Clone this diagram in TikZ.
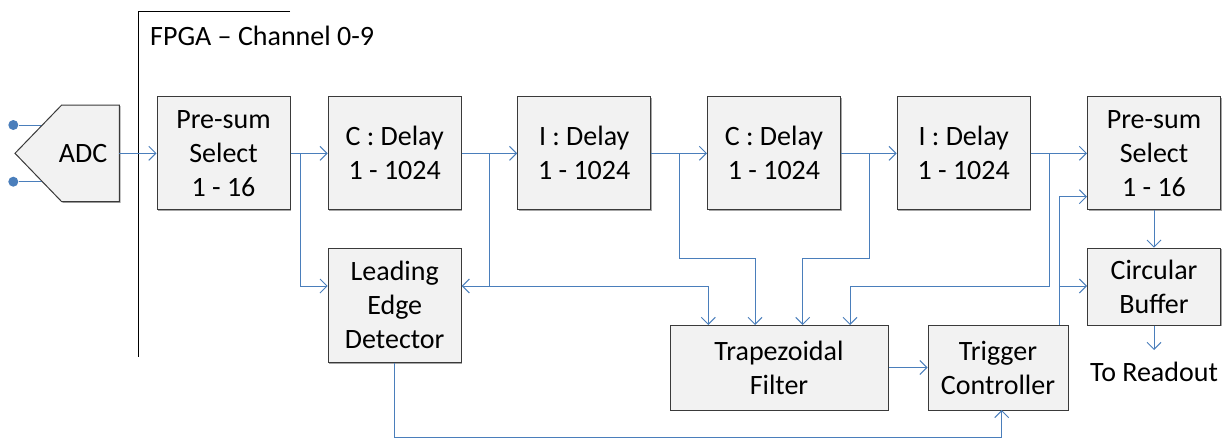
\documentclass[tikz,border=0pt]{standalone}
\usepackage{fontspec}
\setmainfont{Carlito}
\usetikzlibrary{arrows.meta,shadows}
\definecolor{wireblue}{HTML}{4A7EBB}
\definecolor{boxfill}{HTML}{F2F2F2}
\definecolor{boxline}{HTML}{3A3A3A}
\begin{document}
\begin{tikzpicture}[x=1pt,y=-1pt,
  shade box/.style={drop shadow={shadow xshift=1.2pt,shadow yshift=-1.2pt,fill=black,opacity=.35}},
  blk/.style={draw=boxline,fill=boxfill,line width=1pt,align=center,inner sep=0pt,
    font=\fontsize{28}{34}\selectfont,shade box},
  link/.style={draw=wireblue,line width=1pt,-{Straight Barb[length=7pt,width=14pt]}},
  plain/.style={draw=wireblue,line width=1pt},
  label/.style={font=\fontsize{28}{34}\selectfont,inner sep=0pt},
  pin/.style={circle,fill=wireblue,minimum size=10pt,inner sep=0pt}]
\useasboundingbox (0,0) rectangle (1223,439);

% FPGA boundary
\draw[line width=1pt] (290,11) -- (138.3,11) -- (138.3,357);
\node[label,anchor=west] (fpga) at (150,36) {FPGA -- Channel 0-9};

% ADC with its two input pins
\node[pin] (pa) at (13.3,125) {};
\node[pin] (pb) at (13.3,181.7) {};
\coordinate (pae) at (46,125);
\coordinate (pbe) at (46,181.7);
\draw[plain] (pa) -- (pae);
\draw[plain] (pb) -- (pbe);
\draw[draw=boxline,fill=boxfill,line width=1pt,shade box]
  (61.7,105) -- (119.3,105) -- (119.3,201.7) -- (61.7,201.7) -- (15,153.3) -- cycle;
\node[label] (adc) at (83,153.3) {ADC};
\coordinate (adcout) at (119.3,153.3);

% processing chain
\node[blk,minimum width=133pt,minimum height=113pt] (pre1) at (223.5,153.3) {Pre-sum\\Select\\1 - 16};
\node[blk,minimum width=133pt,minimum height=113pt] (c1) at (394.7,153.3) {C : Delay\\1 - 1024};
\node[blk,minimum width=133pt,minimum height=113pt] (i1) at (584.2,153.3) {I : Delay\\1 - 1024};
\node[blk,minimum width=133pt,minimum height=113pt] (c2) at (774,153.3) {C : Delay\\1 - 1024};
\node[blk,minimum width=133pt,minimum height=113pt] (i2) at (963.7,153.3) {I : Delay\\1 - 1024};
\node[blk,minimum width=133pt,minimum height=113pt] (pre2) at (1154,153.3) {Pre-sum\\Select\\1 - 16};
\node[blk,minimum width=133pt,minimum height=114pt] (led) at (394.7,305.3) {Leading\\Edge\\Detector};
\node[blk,minimum width=133pt,minimum height=77pt] (circ) at (1154,286.7) {Circular\\Buffer};
\node[blk,minimum width=218pt,minimum height=85pt] (trap) at (779,367.5) {Trapezoidal\\Filter};
\node[blk,minimum width=140pt,minimum height=85pt] (trig) at (998,367.5) {Trigger\\Controller};
\node[label,anchor=base] (readout) at (1154,381.7) {To Readout};

% helper levels and taps
\coordinate (yA) at (0,286);
\coordinate (yB) at (0,258.3);
\coordinate (yC) at (0,196.7);
\coordinate (yE) at (0,437);
\coordinate (t1) at (300,153.3);
\coordinate (t2) at (489.3,153.3);
\coordinate (t3) at (679.3,153.3);
\coordinate (t4) at (869.3,153.3);
\coordinate (t5) at (1049.3,153.3);
\coordinate (in1) at (708.3,325);
\coordinate (in2) at (755,325);
\coordinate (in3) at (802.7,325);
\coordinate (in4) at (850,325);
\coordinate (tg) at (1059.3,325);
\coordinate (tb) at (1001.7,410);
\coordinate (rd) at (1154,350);

% main signal path
\draw[link] (adcout) -- (pre1.west);
\draw[link] (pre1.east) -- (c1.west);
\draw[link] (c1.east) -- (i1.west);
\draw[link] (i1.east) -- (c2.west);
\draw[link] (c2.east) -- (i2.west);
\draw[link] (i2.east) -- (pre2.west);

% branches
\draw[link] (t1) |- (led.west |- yA);
\draw[link] (t2) |- (led.east |- yA);
\draw[link] (t2 |- yA) -| (in1);
\draw[link] (t3) -- (t3 |- yB) -| (in2);
\draw[link] (t4) -- (t4 |- yB) -| (in3);
\draw[link] (t5) -- (t5 |- yA) -| (in4);
\draw[link] (trap.east) -- (trig.west);
\draw[link] (tg) |- (pre2.west |- yC);
\draw[link] (tg |- yA) -- (circ.west |- yA);
\draw[link] (led.south) -- (led.south |- yE) -| (tb);
\draw[link] (pre2.south) -- (circ.north);
\draw[link] (circ.south) -- (rd);
\end{tikzpicture}
\end{document}
